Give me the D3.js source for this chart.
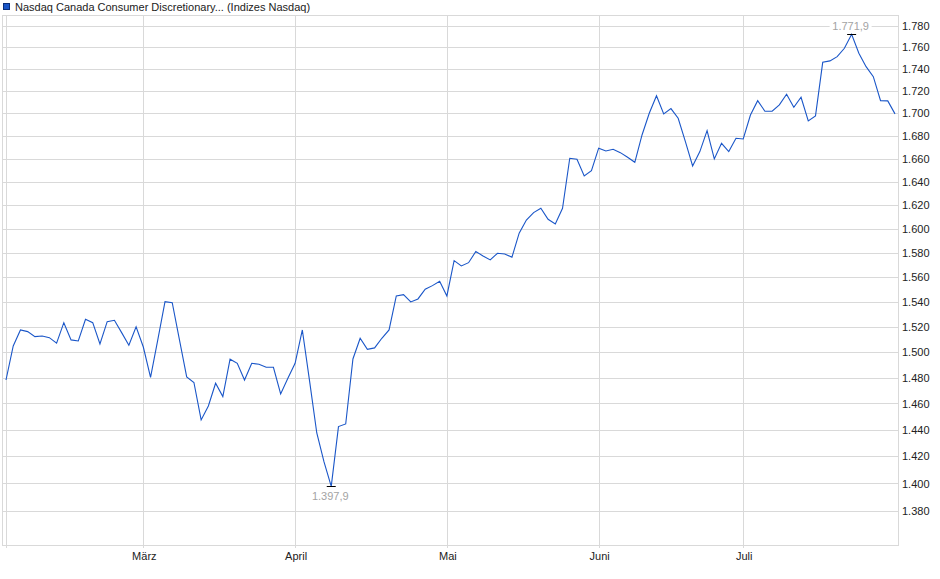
<!DOCTYPE html>
<html>
<head>
<meta charset="utf-8">
<script src="https://cdn.jsdelivr.net/npm/d3@7"></script>
<style>
  html, body { margin: 0; padding: 0; background: #fff; }
  svg { display: block; font-family: Arial, "Liberation Sans", sans-serif; }
</style>
</head>
<body>
<svg id="chart" width="940" height="579"></svg>
<script>
// ---- data ----
const title = "Nasdaq Canada Consumer Discretionary... (Indizes Nasdaq)";
// one value per trading day, Feb 3 – Jul 31
const values = [
  1478.1, 1504.7, 1517.4, 1516.1, 1512.1, 1512.6, 1511.3, 1506.9, 1523.2, 1509.5,
  1508.7, 1525.9, 1523.2, 1506.3, 1524.0, 1525.1, 1515.3, 1505.3, 1520.0, 1503.9,
  1480.1, 1509.5, 1540.1, 1539.3, 1509.5, 1480.5, 1476.2, 1447.5, 1458.1, 1475.6,
  1465.3, 1494.3, 1491.1, 1478.1, 1491.1, 1490.4, 1488.0, 1488.0, 1467.3, 1479.5,
  1491.1, 1517.4, 1477.4, 1437.6, 1415.9, 1397.9, 1442.4, 1444.4, 1494.5, 1510.8,
  1502.1, 1503.2, 1510.8, 1517.4, 1544.7, 1545.8, 1539.9, 1542.3, 1550.2, 1553.1,
  1556.7, 1544.7, 1573.6, 1569.2, 1571.9, 1581.1, 1577.5, 1574.2, 1579.7, 1579.1,
  1576.4, 1596.4, 1607.5, 1613.7, 1617.4, 1608.1, 1604.2, 1617.4, 1660.4, 1659.5,
  1645.1, 1649.7, 1669.2, 1666.8, 1668.3, 1665.3, 1661.3, 1656.9, 1680.8, 1700.1,
  1715.8, 1699.5, 1704.2, 1695.6, 1674.9, 1653.7, 1666.2, 1684.6, 1659.8, 1673.5,
  1666.2, 1677.9, 1677.3, 1698.5, 1711.3, 1701.9, 1701.9, 1707.5, 1717.1, 1705.4,
  1714.4, 1693.2, 1697.7, 1746.1, 1747.4, 1751.3, 1759.0, 1771.9, 1754.4, 1742.1,
  1733.0, 1711.3, 1711.1, 1699.5
];
const monthLabels = ["", "März", "April", "Mai", "Juni", "Juli"];
const monthStartIdx = [0, 19, 40, 61, 82, 102];
const yTicks = [1380, 1400, 1420, 1440, 1460, 1480, 1500, 1520, 1540, 1560,
                1580, 1600, 1620, 1640, 1660, 1680, 1700, 1720, 1740, 1760, 1780];

// ---- layout ----
const plot = { left: 3, right: 898, top: 15, bottom: 545 };
const svg = d3.select("#chart");
const de = d3.formatLocale({ decimal: ",", thousands: ".", grouping: [3], currency: ["", " €"] });
const fmtTick = de.format(",.0f");
const fmtVal = de.format(",.1f");

const x = d3.scaleLinear().domain([0, values.length - 1]).range([6, 895]);
const y = d3.scaleLog().domain([1355.2, 1789.5]).range([545.5, 15.5]);
const px = v => Math.round(v) + 0.5;

const gridColor = "#d9d9d9";

// horizontal gridlines
svg.append("g").selectAll("line").data(yTicks).join("line")
  .attr("x1", plot.left).attr("x2", plot.right)
  .attr("y1", d => px(y(d))).attr("y2", d => px(y(d)))
  .attr("stroke", gridColor).attr("stroke-width", 1);

// vertical month gridlines (extend slightly below axis as ticks)
svg.append("g").selectAll("line").data(monthStartIdx).join("line")
  .attr("x1", d => px(x(d))).attr("x2", d => px(x(d)))
  .attr("y1", plot.top).attr("y2", plot.bottom + 3)
  .attr("stroke", gridColor).attr("stroke-width", 1);

// plot frame
svg.append("rect")
  .attr("x", plot.left - 0.5).attr("y", plot.top + 0.5)
  .attr("width", plot.right - plot.left + 1).attr("height", plot.bottom - plot.top)
  .attr("fill", "none").attr("stroke", gridColor).attr("stroke-width", 1);

// y axis (right)
const yAxis = d3.axisRight(y).tickValues(yTicks).tickFormat(fmtTick).tickSize(0).tickPadding(0);
const gy = svg.append("g").attr("transform", `translate(902,0)`).call(yAxis);
gy.select(".domain").remove();
gy.selectAll("text").attr("font-size", 11).attr("fill", "#222")
  .attr("font-family", 'Arial, "Liberation Sans", sans-serif');

// x axis (month labels)
const xAxis = d3.axisBottom(x).tickValues(monthStartIdx)
  .tickFormat((d, i) => monthLabels[i]).tickSize(0).tickPadding(7);
const gx = svg.append("g").attr("transform", `translate(0.5,${plot.bottom})`).call(xAxis);
gx.select(".domain").remove();
gx.selectAll("text").attr("font-size", 11).attr("fill", "#222")
  .attr("font-family", 'Arial, "Liberation Sans", sans-serif');

// price line
const line = d3.line().x((d, i) => x(i)).y(d => y(d));
svg.append("path").datum(values)
  .attr("d", line).attr("fill", "none")
  .attr("stroke", "#1a56c8").attr("stroke-width", 1.1)
  .attr("stroke-linejoin", "miter");

// min / max markers
const minI = d3.minIndex(values), maxI = d3.maxIndex(values);
const markers = [
  { i: minI, v: values[minI], dy: 13.5 },
  { i: maxI, v: values[maxI], dy: -5 }
];
markers.forEach(m => {
  const mx = x(m.i), my = Math.round(y(m.v)) + 0.5;
  if (m.dy < 0) {
    const w = 42;
    svg.append("rect").attr("x", mx - w / 2 - 1).attr("y", my - 16).attr("width", w).attr("height", 12)
      .attr("fill", "#fff");
  }
  svg.append("line").attr("x1", mx - 4.5).attr("x2", mx + 4.5)
    .attr("y1", my).attr("y2", my).attr("stroke", "#000").attr("stroke-width", 1);
  svg.append("text").attr("x", mx - 1).attr("y", my + m.dy)
    .attr("text-anchor", "middle").attr("font-size", 11).attr("fill", "#a3a3a3")
    .text(fmtVal(m.v));
});

// legend / title
svg.append("rect").attr("x", 3.5).attr("y", 3.5).attr("width", 6).attr("height", 6)
  .attr("fill", "#1a56c8").attr("stroke", "#0b2f7a").attr("stroke-width", 1);
svg.append("text").attr("x", 15).attr("y", 11).attr("font-size", 11).attr("fill", "#222")
  .text(title);
</script>
</body>
</html>
